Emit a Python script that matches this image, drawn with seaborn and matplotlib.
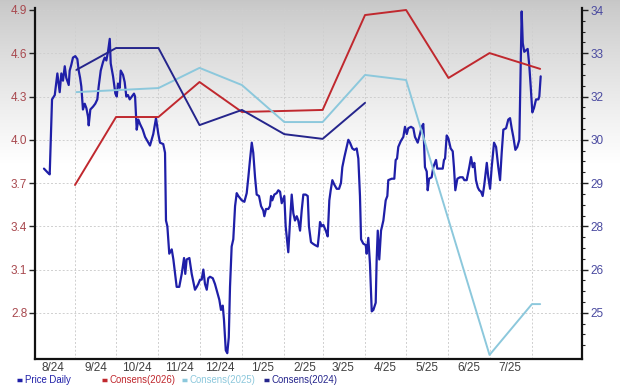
import numpy as np
import pandas as pd
import matplotlib
matplotlib.use("Agg")
import matplotlib.pyplot as plt
import matplotlib.dates as mdates
from matplotlib.ticker import FixedLocator, FixedFormatter, NullFormatter
from matplotlib.lines import Line2D
from matplotlib import font_manager
import seaborn as sns

# ---------------- data ----------------
# price: days since 2024-08-01, daily close
price_days = [8.3, 11.3, 12.5, 14.2, 16.2, 18.1, 19.8, 21.0, 22.2, 23.5, 24.6, 26.4, 27.1, 28.3, 29.5, 31.2, 32.7, 33.7, 34.7, 35.6,
              36.1, 36.8, 38.1, 39.3, 40.5, 41.0, 42.2, 44.2, 45.8, 47.3, 48.3, 49.8, 51.5, 52.7, 53.9, 55.1, 56.4, 57.1, 58.8, 60.5,
              61.5, 62.4, 63.7, 64.4, 66.1, 67.3, 68.5, 69.7, 71.0,
              74.1, 74.9, 76.1, 77.3, 78.5, 80.5, 82.2, 84.6, 85.8, 88.2, 90.2, 91.9, 93.1, 95.5, 96.8, 97.5, 98.5, 99.9, 101.7, 102.9,
              105.3, 107.2, 109.0, 110.7, 111.6, 112.6, 114.6, 116.3, 118.7, 120.0, 121.1, 122.4, 123.6, 124.8, 126.0, 127.3, 128.4, 129.7, 131.7, 133.3,
              135.0, 136.5, 137.7, 139.0, 139.9, 141.2, 142.3, 143.4, 144.3, 145.5, 146.7, 148.0, 149.2, 150.4,
              152.9, 154.8, 156.5, 157.7, 158.9, 160.2, 161.3, 162.6, 163.8, 165.5, 167.0, 168.6, 169.4, 170.6, 172.3, 173.5, 174.3, 175.2, 176.7, 178.4,
              179.6, 180.9, 182.1, 184.0, 185.0, 186.9, 188.2, 189.4, 190.6, 191.8, 193.1, 194.2, 195.5, 196.7, 197.9, 199.6, 201.1, 202.0, 203.5, 204.8,
              206.4, 208.4, 209.4, 210.1, 211.3, 212.5, 214.3, 215.7, 216.9, 217.9, 219.1, 220.5, 222.3, 224.0, 225.4, 226.4, 227.9,
              229.6, 230.8, 232.0, 233.7, 235.2, 236.9, 238.1, 239.3, 240.1, 241.7, 243.5, 244.2, 245.4, 246.6, 247.9, 249.1, 250.8, 251.5, 252.3, 253.4,
              254.7, 256.4, 258.1, 259.3, 260.0, 262.5, 264.4, 265.4, 266.4, 267.3, 269.1, 271.0, 272.2, 273.5, 274.6, 276.6, 278.3, 279.5, 281.5, 283.2,
              284.4, 285.6, 286.8, 288.1, 288.8, 289.8, 291.7,
              292.9, 294.9, 295.8, 297.8, 299.8, 300.7, 301.5, 302.7, 303.9, 305.6, 307.1, 308.0, 309.0, 310.5, 312.4, 314.4, 315.6, 317.3, 319.2, 320.5,
              321.7, 322.9, 324.1, 325.4, 326.5, 327.8, 329.0, 330.2, 332.0, 333.1, 334.4, 335.6, 337.3, 338.8, 340.4, 341.7, 342.9, 344.1, 346.1, 347.7,
              349.0, 350.2, 351.4, 352.9, 354.3, 355.8, 357.5, 358.3, 359.4, 360.7, 361.9, 363.1, 364.1, 365.3, 366.5, 368.0, 369.7, 370.4, 371.4]
price_vals = [3.80, 3.77, 3.76, 4.28, 4.31, 4.46, 4.33, 4.46, 4.41, 4.51, 4.43, 4.38, 4.48, 4.52, 4.57, 4.58, 4.56, 4.48, 4.43, 4.37,
              4.30, 4.21, 4.25, 4.22, 4.16, 4.10, 4.21, 4.23, 4.25, 4.28, 4.37, 4.48, 4.54, 4.57, 4.55, 4.61, 4.70, 4.53, 4.44, 4.32,
              4.30, 4.39, 4.36, 4.48, 4.45, 4.40, 4.30, 4.31, 4.28,
              4.32, 4.30, 4.07, 4.14, 4.11, 4.07, 4.02, 3.98, 3.96, 4.04, 4.15, 4.04, 3.98, 3.97, 3.91, 3.44, 3.40, 3.21, 3.24, 3.17,
              2.98, 2.98, 3.07, 3.18, 3.07, 3.17, 3.18, 3.07, 2.96, 2.98, 3.00, 3.03, 3.03, 3.10, 3.00, 2.96, 3.04, 3.05, 3.04, 3.00,
              2.94, 2.89, 2.82, 2.85, 2.75, 2.54, 2.52, 2.63, 2.98, 3.26, 3.31, 3.54, 3.63, 3.61,
              3.58, 3.57, 3.63, 3.74, 3.86, 3.98, 3.91, 3.74, 3.62, 3.61, 3.54, 3.51, 3.47, 3.52, 3.52, 3.54, 3.61, 3.58, 3.62, 3.63,
              3.65, 3.64, 3.56, 3.61, 3.40, 3.22, 3.44, 3.62, 3.49, 3.44, 3.47, 3.44, 3.37, 3.51, 3.62, 3.62, 3.61, 3.40, 3.29, 3.28,
              3.27, 3.26, 3.35, 3.43, 3.40, 3.41, 3.37, 3.33, 3.58, 3.65, 3.72, 3.69, 3.66, 3.66, 3.70, 3.81, 3.88,
              3.95, 4.00, 3.98, 3.94, 3.93, 3.94, 3.87, 3.61, 3.31, 3.28, 3.27, 3.21, 3.32, 3.14, 2.81, 2.82, 2.87, 3.17, 3.37, 3.17,
              3.37, 3.44, 3.58, 3.61, 3.72, 3.73, 3.73, 3.86, 3.87, 3.95, 3.99, 4.02, 4.09, 4.04, 4.08, 4.09, 4.08, 4.02, 3.98, 4.04,
              4.09, 4.11, 3.81, 3.78, 3.65, 3.73, 3.74,
              3.81, 3.86, 3.80, 3.80, 3.80, 3.86, 3.87, 4.03, 4.01, 3.94, 3.92, 3.81, 3.65, 3.73, 3.74, 3.74, 3.72, 3.72, 3.81, 3.88,
              3.81, 3.84, 3.72, 3.67, 3.65, 3.64, 3.61, 3.69, 3.84, 3.74, 3.66, 3.81, 3.98, 3.95, 3.81, 3.72, 3.91, 4.07, 4.08, 4.14,
              4.15, 4.08, 4.02, 3.93, 3.95, 4.00, 4.89, 4.67, 4.61, 4.62, 4.63, 4.51, 4.37, 4.19, 4.22, 4.28, 4.28, 4.30, 4.44]

cons2026_dates = ["2024-09-01", "2024-10-01", "2024-11-01", "2024-12-01", "2025-01-01", "2025-02-01",
                  "2025-03-01", "2025-04-01", "2025-05-01", "2025-06-01", "2025-07-01", "2025-08-07"]
cons2026_vals = [28.80, 30.82, 30.82, 31.86, 30.97, 31.00, 31.03, 33.85, 34.00, 31.98, 32.72, 32.25]

cons2025_dates = ["2024-09-02", "2024-11-01", "2024-12-01", "2025-01-01", "2025-02-01", "2025-03-01",
                  "2025-04-01", "2025-05-01", "2025-07-01", "2025-08-01", "2025-08-07"]
cons2025_vals = [31.56, 31.68, 32.28, 31.77, 30.67, 30.67, 32.07, 31.92, 23.75, 25.26, 25.26]

cons2024_dates = ["2024-09-02", "2024-10-01", "2024-11-01", "2024-12-01", "2025-01-01", "2025-02-01",
                  "2025-03-01", "2025-04-01"]
cons2024_vals = [32.22, 32.87, 32.87, 30.58, 31.03, 30.31, 30.17, 31.24]

x_label_dates = ["2024-08-16", "2024-09-16", "2024-10-16", "2024-11-16", "2024-12-16", "2025-01-16",
                 "2025-02-16", "2025-03-16", "2025-04-16", "2025-05-16", "2025-06-16", "2025-07-16"]
x_labels = ["8/24", "9/24", "10/24", "11/24", "12/24", "1/25", "2/25", "3/25", "4/25", "5/25", "6/25", "7/25"]
left_ticks = [2.8, 3.1, 3.4, 3.7, 4.0, 4.3, 4.6, 4.9]
left_labels = ["2.8", "3.1", "3.4", "3.7", "4.0", "4.3", "4.6", "4.9"]
right_labels = ["25", "26", "28", "29", "30", "32", "33", "34"]
legend_labels = ["Price Daily", "Consens(2026)", "Consens(2025)", "Consens(2024)"]

# ---------------- style ----------------
sns.set_theme(style="white")
names = {f.name for f in font_manager.fontManager.ttflist}
fam = [f for f in ["Liberation Sans Narrow", "Liberation Sans", "DejaVu Sans"] if f in names]
plt.rcParams['font.family'] = fam

C_PRICE = "#1f1fa8"
C_2026 = "#c0282e"
C_2025 = "#8cc8dc"
C_2024 = "#25258c"
C_LEFT = "#a8484e"
C_RIGHT = "#4a4aa0"

W, H = 620, 389
fig = plt.figure(figsize=(W / 100, H / 100), dpi=100)

# background gradient
bg = fig.add_axes([0, 0, 1, 1], zorder=-10)
t = np.linspace(0, 1, H)
c = 0.78 + 0.22 * np.clip(t / 0.42, 0, 1) ** 0.85
img = np.repeat(np.repeat(c[:, None, None], 3, axis=2), 2, axis=1)
bg.imshow(img, aspect="auto", extent=[0, 1, 0, 1])
bg.axis("off")

x0, x1, ytop, ybot = 35, 582, 8, 359
ax = fig.add_axes([x0 / W, 1 - ybot / H, (x1 - x0) / W, (ybot - ytop) / H])
ax.patch.set_alpha(0)
ax2 = ax.twinx()
ax2.patch.set_alpha(0)

base = pd.Timestamp("2024-08-01")
price_dates = base + pd.to_timedelta(price_days, unit="D")
df_price = pd.DataFrame({"date": price_dates, "price": price_vals})

sns.lineplot(data=df_price, x="date", y="price", ax=ax, color=C_PRICE, lw=1.6, estimator=None)
sns.lineplot(x=pd.to_datetime(cons2026_dates), y=cons2026_vals, ax=ax2, color=C_2026, lw=1.4, estimator=None)
sns.lineplot(x=pd.to_datetime(cons2025_dates), y=cons2025_vals, ax=ax2, color=C_2025, lw=1.4, estimator=None)
sns.lineplot(x=pd.to_datetime(cons2024_dates), y=cons2024_vals, ax=ax2, color=C_2024, lw=1.4, estimator=None)

# limits
xmin = base + pd.Timedelta(days=1.75)
xmax = base + pd.Timedelta(days=401.6)
ax.set_xlim(xmin, xmax)
ax.set_ylim(4.9 - (ybot - 10) / 144.2, 4.9 + (10 - ytop) / 144.2)
ax2.set_ylim(34 - (ybot - 10) / 33.65, 34 + (10 - ytop) / 33.65)

# x ticks: gridlines at month starts, labels mid-month
grid_dates = pd.date_range("2024-09-01", "2025-08-01", freq="MS")
ax.xaxis.set_major_locator(FixedLocator(mdates.date2num(grid_dates)))
ax.xaxis.set_major_formatter(NullFormatter())
ax.xaxis.set_minor_locator(FixedLocator(mdates.date2num(pd.to_datetime(x_label_dates))))
ax.xaxis.set_minor_formatter(FixedFormatter(x_labels))
ax.tick_params(axis="x", which="both", length=0, labelsize=8.5, labelcolor="#404040", pad=2.5)

ax.yaxis.set_major_locator(FixedLocator(left_ticks))
ax.yaxis.set_major_formatter(FixedFormatter(left_labels))
ax.tick_params(axis="y", which="major", direction="out", length=4, width=1, color="#222222",
               labelsize=8.5, labelcolor=C_LEFT, pad=1.5, left=True)

step = 9 / 7
right_ticks = [25 + k * step for k in range(8)]
ax2.yaxis.set_major_locator(FixedLocator(right_ticks))
ax2.yaxis.set_major_formatter(FixedFormatter(right_labels))
minor = [25 + k * step / 4 for k in range(-4, 30) if k % 4 != 0]
lo, hi = ax2.get_ylim()
ax2.yaxis.set_minor_locator(FixedLocator([m for m in minor if lo < m < hi]))
ax2.tick_params(axis="y", which="major", direction="out", length=4, width=1, color="#222222",
                labelsize=8.5, labelcolor=C_RIGHT, pad=2, right=True)
ax2.tick_params(axis="y", which="minor", direction="out", length=2.5, width=0.8, color="#222222", right=True)

ax.grid(True, which="major", color="#cfcfcf", lw=0.7, ls=(0, (2, 2)))
ax2.grid(False)
ax.set_xlabel("")
ax.set_ylabel("")
ax2.set_ylabel("")

for s in ["top", "right"]:
    ax.spines[s].set_visible(False)
for s in ["top", "left", "bottom"]:
    ax2.spines[s].set_visible(False)
for s in ["left", "bottom"]:
    ax.spines[s].set_color("#111111")
    ax.spines[s].set_linewidth(1.6)
ax2.spines["right"].set_color("#111111")
ax2.spines["right"].set_linewidth(1.6)

# legend (manual, below the axes)
ly = 1 - 380 / H
entries = [(17, legend_labels[0], C_PRICE), (102, legend_labels[1], C_2026),
           (182, legend_labels[2], C_2025), (264, legend_labels[3], C_2024)]
for px, lab, col in entries:
    fig.add_artist(Line2D([px / W, (px + 5) / W], [ly, ly], transform=fig.transFigure,
                          color=col, lw=2.5, solid_capstyle="butt"))
    fig.text((px + 8) / W, ly, lab, color=col, fontsize=6.9, va="center", ha="left")

fig.savefig("out.png", dpi=100)
